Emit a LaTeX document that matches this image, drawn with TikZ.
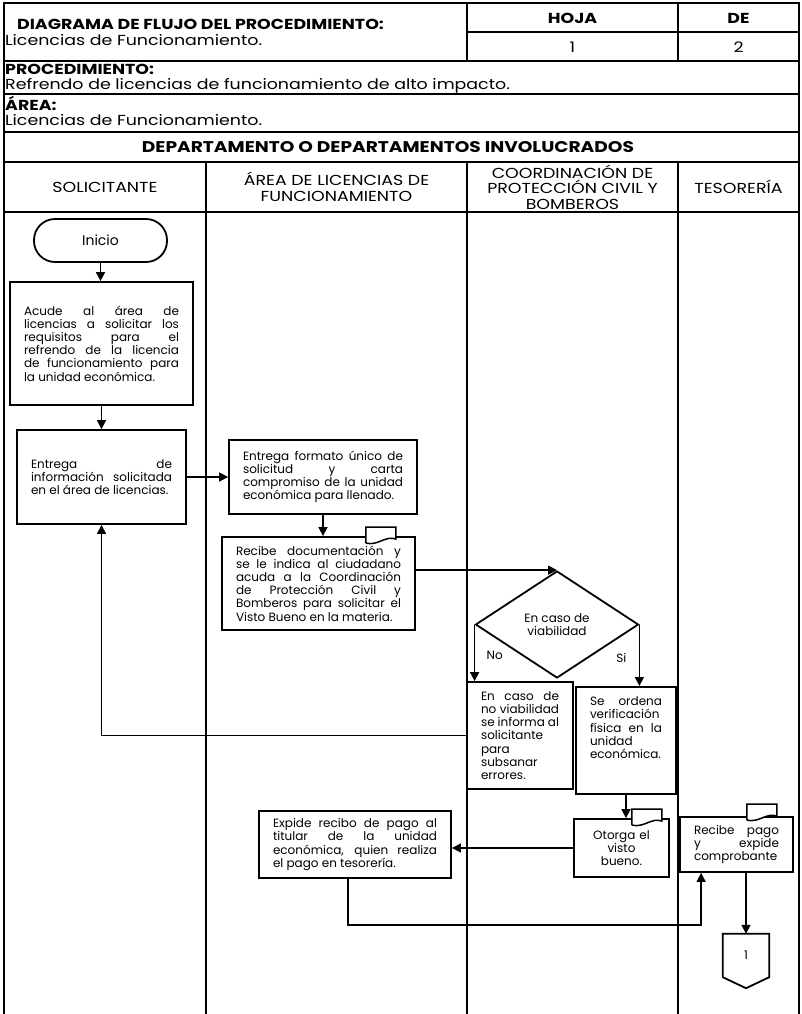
\documentclass[tikz,border=0pt]{standalone}
\usepackage{fontspec}
\setmainfont{Poppins}
\newfontfamily\encfam{Poppins}[FakeStretch=1.2]
\usetikzlibrary{shapes.geometric,arrows.meta,calc}

\newcommand{\textocaja}{\fontsize{12}{13.2}\selectfont\tolerance=9999\hyphenpenalty=10000}
\newcommand{\textoenc}{\encfam\fontsize{14.5}{15.5}\selectfont}

% hojita de documento sobre la esquina de una caja
\newcommand{\hojita}[1]{%
  \filldraw[fill=white, line width=1.5pt, shift={#1}]
    (0,16) -- (0,0) -- (30,0) -- (30,12) .. controls (20,8) and (12,19) .. (0,16);}

\begin{document}
\begin{tikzpicture}[x=1pt,y=-1pt,
  caja/.style={draw, line width=1.8pt, inner xsep=14pt, inner ysep=4pt, align=justify, font=\textocaja},
  flecha/.style={-{Triangle[width=9pt,length=9pt]}, line width=1.6pt},
  tabla/.style={line width=1.3pt},
  enc/.style={anchor=base west, inner sep=0pt, font=\textoenc},
  carril/.style={align=center, font=\textoenc}]
 \useasboundingbox (0,0) rectangle (801,1014);

 % encabezado
 \draw[tabla] (4,1014) -- (4,3) -- (799,3) -- (799,1014);
 \foreach \y in {61,94,132,162,212}
   \draw[tabla] (4,\y) -- (799,\y);
 \draw[tabla] (467,3) -- (467,61) (678,3) -- (678,61) (467,32) -- (799,32);
 \foreach \x in {206,467,678}
   \draw[tabla] (\x,162) -- (\x,1014);

 \node[enc, font=\textoenc\bfseries] (titulo) at (17,30) {DIAGRAMA DE FLUJO DEL PROCEDIMIENTO:};
 \node[enc] (tituloarea) at (5,46) {Licencias de Funcionamiento.};
 \node[font=\textoenc\bfseries] (hoja) at (572.5,18) {HOJA};
 \node[font=\textoenc\bfseries] (de) at (738.5,18) {DE};
 \node[font=\textoenc] (hojanum) at (572.5,47) {1};
 \node[font=\textoenc] (denum) at (738.5,47) {2};
 \node[enc, font=\textoenc\bfseries] (proc) at (5,75) {PROCEDIMIENTO:};
 \node[enc] (procnom) at (5,90) {Refrendo de licencias de funcionamiento de alto impacto.};
 \node[enc, font=\textoenc\bfseries] (area) at (5,111) {ÁREA:};
 \node[enc] (areanom) at (5,125) {Licencias de Funcionamiento.};
 \node[font=\encfam\fontsize{15.5}{17}\selectfont\bfseries] (deptos) at (388,147) {DEPARTAMENTO O DEPARTAMENTOS INVOLUCRADOS};

 \node[carril] (solic) at (105,187) {SOLICITANTE};
 \node[carril] (licen) at (336.5,187) {ÁREA DE LICENCIAS DE\\FUNCIONAMIENTO};
 \node[carril] (pcivil) at (572.5,187) {COORDINACIÓN DE\\PROTECCIÓN CIVIL Y\\BOMBEROS};
 \node[carril] (teso) at (738.5,187) {TESORERÍA};

 % flujo
 \node[draw, line width=1.8pt, rounded corners=21pt, minimum width=133pt, minimum height=43pt,
   font=\fontsize{14}{16}\selectfont] (inicio) at (100.5,240.5) {Inicio};
 \node[caja, text width=155pt, minimum height=123pt] (acude) at (101.5,343.5)
   {Acude al área de\linebreak licencias a solicitar los\linebreak requisitos para el\linebreak
    refrendo de la licencia\linebreak de funcionamiento para\linebreak la unidad económica.};
 \node[caja, text width=141pt, minimum height=94pt] (entinfo) at (101.5,477)
   {Entrega de\linebreak información solicitada\linebreak en el área de licencias.};
 \node[caja, text width=160pt, minimum height=74pt] (entform) at (323,477)
   {Entrega formato único de\linebreak solicitud y carta\linebreak compromiso de la unidad\linebreak
    económica para llenado.};
 \node[caja, text width=165pt, minimum height=93pt] (recdoc) at (318.5,583.5)
   {Recibe documentación y\linebreak se le indica al ciudadano\linebreak acuda a la Coordinación\linebreak
    de Protección Civil y\linebreak Bomberos para solicitar el\linebreak Visto Bueno en la materia.};
 \node[draw, diamond, line width=1.8pt, minimum width=163pt, minimum height=107pt, inner sep=0pt,
   align=center, font=\textocaja] (dec) at (557,624.5) {En caso de\\viabilidad};
 \node[caja, text width=78pt, minimum height=107pt] (noviab) at (520,735.5)
   {En caso de\linebreak no viabilidad\linebreak se informa al\linebreak solicitante\newline para\newline
    subsanar\newline errores.};
 \node[caja, text width=72pt, inner ysep=10pt, text depth=78pt, anchor=north] (verif) at (626,686)
   {Se ordena\linebreak verificación\newline física en la\linebreak unidad\newline económica.};
 \node[caja, text width=67pt, minimum height=58pt, align=center] (otorga) at (621.5,848)
   {Otorga el\\visto\\bueno.};
 \node[caja, text width=164pt, minimum height=67pt] (expide) at (355,844.5)
   {Expide recibo de pago al\linebreak titular de la unidad\linebreak económica, quien realiza\linebreak
    el pago en tesorería.};
 \node[caja, text width=85pt, minimum height=55pt] (recpago) at (736.5,844.5)
   {Recibe pago\linebreak y expide\linebreak comprobante};
 \node[minimum width=46pt, minimum height=43pt, font=\textocaja] (con1) at (746,955.5) {1};
 \draw[line width=1.8pt] (con1.north west) -- (con1.north east) -- (con1.south east)
   -- ($(con1.south)+(0,11)$) -- (con1.south west) -- cycle;

 \hojita{($(recdoc.north east)+(-50,-9)$)}
 \hojita{($(otorga.north east)+(-38,-9)$)}
 \hojita{($(recpago.north east)+(-47,-12)$)}

 \draw[flecha] (inicio.south) -- (inicio.south |- acude.north);
 \draw[flecha] (acude.south) -- (entinfo.north);
 \draw[flecha] (entinfo.east) -- (entform.west);
 \draw[flecha] (entform.south) -- (entform.south |- recdoc.north);
 \draw[flecha] (recdoc.east |- dec.north) -- (dec.north);
 \draw[flecha] (dec.west) -- node[right, pos=0.55, xshift=8pt, font=\textocaja] (lblno) {No} (dec.west |- noviab.north);
 \draw[flecha] (dec.east) -- node[left, pos=0.55, xshift=-9pt, font=\textocaja] (lblsi) {Si} (dec.east |- verif.north);
 \draw[flecha, line width=1.3pt] (noviab.west) -| (entinfo.south);
 \draw[flecha] (verif.south) -- (verif.south |- otorga.north);
 \draw[flecha] (otorga.west) -- (otorga.west -| expide.east);
 \coordinate (pagoin) at ($(recpago.south west)+(22,0)$);
 \draw[flecha, line width=1.3pt] ($(expide.south)+(-7,0)$) -- ++(0,46) -| (pagoin);
 \draw[flecha] (con1.north |- recpago.south) -- (con1.north);
\end{tikzpicture}
\end{document}
